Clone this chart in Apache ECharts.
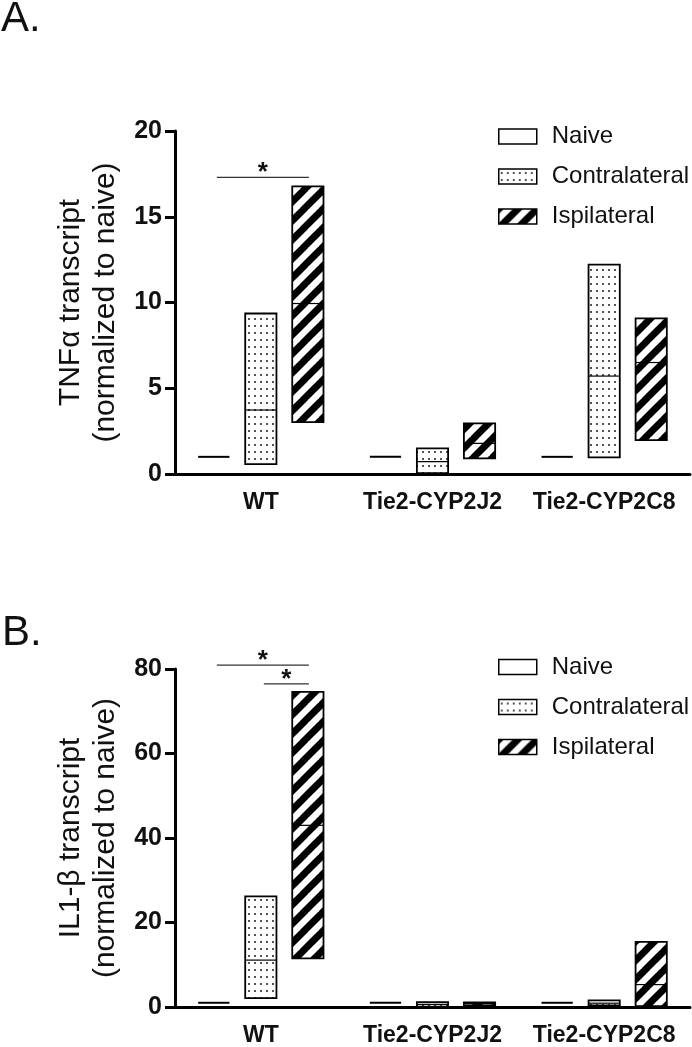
<!DOCTYPE html>
<html>
<head>
<meta charset="utf-8">
<script src="https://cdn.jsdelivr.net/npm/echarts@6/dist/echarts.min.js"></script>
<style>html,body{margin:0;padding:0;background:#fff;}#chart{width:692px;height:1047px;}</style>
</head>
<body>
<div id="chart"></div>
<script>
// ---- data ----
const categories = ['WT', 'Tie2-CYP2J2', 'Tie2-CYP2C8'];
const groupNames = ['Naive', 'Contralateral', 'Ispilateral'];
// each entry: [min, median, max]
const tnfNaive   = [[1, 1, 1], [1, 1, 1], [1, 1, 1]];
const tnfContra  = [[0.58, 3.73, 9.36], [0.05, 0.72, 1.5], [0.97, 5.71, 12.21]];
const tnfIpsi    = [[3.03, 9.94, 16.77], [0.91, 1.79, 2.95], [1.98, 6.5, 9.07]];
const il1Naive   = [[1, 1, 1], [1, 1, 1], [1, 1, 1]];
const il1Contra  = [[2.1, 11.1, 26.2], [0.1, 0.6, 1.15], [0.4, 0.9, 1.55]];
const il1Ipsi    = [[11.5, 43.0, 74.6], [0.35, 0.8, 1.1], [0.2, 5.3, 15.4]];
// significance bars: [category, fromGroup, toGroup, value]
const tnfSig = [[0, 0, 2, 17.3]];
const il1Sig = [[0, 0, 2, 80.9], [0, 1, 2, 76.5]];
const yTicksA = { min: 0, max: 20, interval: 5 };
const yTicksB = { min: 0, max: 80, interval: 20 };

// ---- styles ----
const FONT = '"Liberation Sans", Arial, Helvetica, sans-serif';
const groupOffset = [-0.274, 0, 0.274];
const barFrac = 0.182;

function makeDots() {
  const c = document.createElement('canvas');
  c.width = 6; c.height = 7;
  const g = c.getContext('2d');
  g.fillStyle = '#fff'; g.fillRect(0, 0, 6, 7);
  g.fillStyle = '#555'; g.fillRect(2, 3, 2, 2);
  return c;
}
function makeHatch() {
  const s = 19;
  const c = document.createElement('canvas');
  c.width = s; c.height = s;
  const g = c.getContext('2d');
  g.fillStyle = '#fff'; g.fillRect(0, 0, s, s);
  g.strokeStyle = '#000'; g.lineWidth = 7;
  for (let k = -1; k <= 1; k++) {
    g.beginPath();
    g.moveTo(k * s - 2, s + 2);
    g.lineTo(k * s + s + 2, -2);
    g.stroke();
  }
  return c;
}
const fills = ['#fff', { image: makeDots(), repeat: 'repeat' }, { image: makeHatch(), repeat: 'repeat' }];

function toData(arr) { return arr.map((v, i) => [i, v[0], v[1], v[2]]); }

function boxRenderer(gi) {
  return function (params, api) {
    const cat = api.value(0);
    const lo = api.value(1), med = api.value(2), hi = api.value(3);
    const band = api.size([1, 0])[0];
    const cx = api.coord([cat, 0])[0] + groupOffset[gi] * band;
    const w = band * barFrac;
    const yLo = api.coord([cat, lo])[1];
    const yHi = api.coord([cat, hi])[1];
    const yMed = api.coord([cat, med])[1];
    if (hi === lo) {
      return { type: 'line', shape: { x1: cx - w / 2, y1: yMed, x2: cx + w / 2, y2: yMed },
        style: { stroke: '#000', lineWidth: 2 } };
    }
    return { type: 'group', children: [
      { type: 'rect', shape: { x: cx - w / 2, y: yHi, width: w, height: yLo - yHi },
        style: { fill: fills[gi], stroke: '#000', lineWidth: 1.8 } },
      { type: 'line', shape: { x1: cx - w / 2, y1: yMed, x2: cx + w / 2, y2: yMed },
        style: { stroke: '#000', lineWidth: 1.2 } }
    ] };
  };
}
function sigRenderer(params, api) {
  const cat = api.value(0);
  const band = api.size([1, 0])[0];
  const c0 = api.coord([cat, 0])[0];
  const x1 = c0 + groupOffset[api.value(1)] * band + 3;
  const x2 = c0 + groupOffset[api.value(2)] * band + 1;
  const y = api.coord([cat, api.value(3)])[1];
  return { type: 'group', children: [
    { type: 'line', shape: { x1: x1, y1: y, x2: x2, y2: y }, style: { stroke: '#333', lineWidth: 1.2 } },
    { type: 'text', style: { text: '*', x: (x1 + x2) / 2, y: y - 4, align: 'center', verticalAlign: 'middle',
        fontSize: 26, fontWeight: 'bold', fontFamily: FONT, fill: '#111' } }
  ] };
}

const legendData = [
  { name: 'Naive', icon: 'rect', itemStyle: { color: '#fff', borderColor: '#000', borderWidth: 1.5 } },
  { name: 'Contralateral', icon: 'rect', itemStyle: { color: fills[1], borderColor: '#000', borderWidth: 1.5 } },
  { name: 'Ispilateral', icon: 'rect', itemStyle: { color: fills[2], borderColor: '#000', borderWidth: 1.5 } }
];
function legendAt(top) {
  return { orient: 'vertical', left: 493, top: top, itemWidth: 38, itemHeight: 15, itemGap: 16,
    selectedMode: false, data: legendData,
    textStyle: { fontSize: 24, lineHeight: 24, color: '#111', fontFamily: FONT, padding: [0, 0, 0, 10] } };
}
function xAxisFor(gi) {
  return { type: 'category', gridIndex: gi, data: categories,
    axisLine: { lineStyle: { color: '#000', width: 3 } },
    axisTick: { alignWithLabel: true, length: 8, lineStyle: { color: '#000', width: 3 } },
    axisLabel: { interval: 0, fontSize: 23, fontWeight: 'bold', color: '#111', fontFamily: FONT, margin: 17 } };
}
function yAxisFor(gi, ticks, name) {
  return { type: 'value', gridIndex: gi, min: ticks.min, max: ticks.max, interval: ticks.interval,
    name: name, nameLocation: 'middle', nameRotate: 90, nameGap: 50,
    nameTextStyle: { fontSize: 30, lineHeight: 35, color: '#111', fontFamily: FONT, align: 'center' },
    axisLine: { show: true, lineStyle: { color: '#000', width: 3 } },
    axisTick: { show: true, length: 10, lineStyle: { color: '#000', width: 3 } },
    axisLabel: { fontSize: 25, fontWeight: 'bold', color: '#111', fontFamily: FONT, margin: 13 },
    splitLine: { show: false } };
}
const panels = [[tnfNaive, tnfContra, tnfIpsi], [il1Naive, il1Contra, il1Ipsi]];
const series = [];
panels.forEach((p, pi) => {
  p.forEach((arr, gi) => {
    series.push({ type: 'custom', name: groupNames[gi], xAxisIndex: pi, yAxisIndex: pi,
      renderItem: boxRenderer(gi), data: toData(arr), clip: false,
      encode: { x: 0, y: [1, 2, 3] }, silent: true });
  });
});
series.push({ type: 'custom', name: 'sigA', xAxisIndex: 0, yAxisIndex: 0, renderItem: sigRenderer,
  data: tnfSig, clip: false, encode: { x: 0, y: 3 }, silent: true });
series.push({ type: 'custom', name: 'sigB', xAxisIndex: 1, yAxisIndex: 1, renderItem: sigRenderer,
  data: il1Sig, clip: false, encode: { x: 0, y: 3 }, silent: true });

const chart = echarts.init(document.getElementById('chart'), null, { renderer: 'canvas' });
chart.setOption({
  animation: false,
  backgroundColor: '#fff',
  textStyle: { fontFamily: FONT },
  grid: [
    { left: 175, right: 2, top: 131, height: 343 },
    { left: 175, right: 2, top: 669, height: 343 }
  ],
  xAxis: [xAxisFor(0), xAxisFor(1)],
  yAxis: [
    yAxisFor(0, yTicksA, 'TNF\u03b1 transcript\n(normalized to naive)'),
    yAxisFor(1, yTicksB, 'IL1-\u03b2 transcript\n(normalized to naive)')
  ],
  legend: [legendAt(119.5), legendAt(650)],
  graphic: [
    { type: 'text', left: 1, top: -2, style: { text: 'A.', fontSize: 42, fontFamily: FONT, fill: '#111' } },
    { type: 'text', left: 2, top: 612, style: { text: 'B.', fontSize: 42, fontFamily: FONT, fill: '#111' } }
  ],
  series: series
});
</script>
</body>
</html>
